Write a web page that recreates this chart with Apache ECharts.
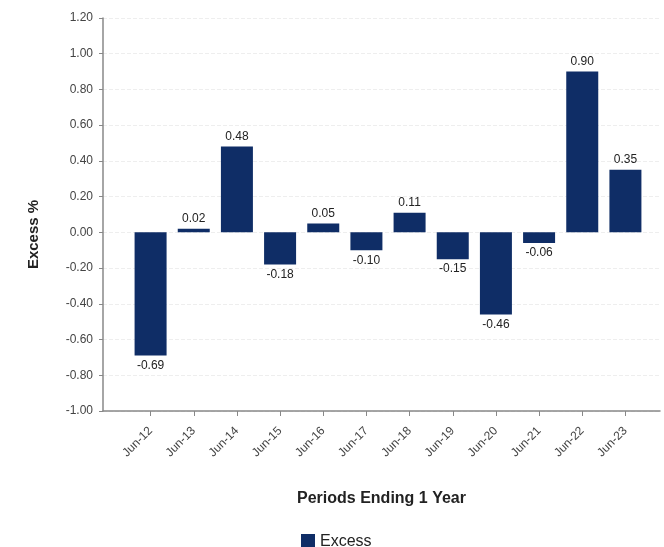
<!DOCTYPE html>
<html>
<head>
<meta charset="utf-8">
<script src="https://cdn.jsdelivr.net/npm/echarts@6/dist/echarts.min.js"></script>
<style>html,body{margin:0;padding:0;background:#fff}#c{width:664px;height:547px}</style>
</head>
<body>
<div id="c"></div>
<script>
var categories = ['Jun-12','Jun-13','Jun-14','Jun-15','Jun-16','Jun-17','Jun-18','Jun-19','Jun-20','Jun-21','Jun-22','Jun-23'];
var excess = [-0.69, 0.02, 0.48, -0.18, 0.05, -0.10, 0.11, -0.15, -0.46, -0.06, 0.90, 0.35];
var yTicks = {min: -1.0, max: 1.2, interval: 0.2};

var barData = excess.map(function (v) {
  return {value: v, label: {position: v < 0 ? 'bottom' : 'top'}};
});
var chart = echarts.init(document.getElementById('c'), null, {renderer: 'canvas'});
var font = 'Arial, "Liberation Sans", sans-serif';
chart.setOption({
  backgroundColor: '#ffffff',
  animation: false,
  grid: [
    {left: 129, right: 17, top: 18, bottom: 136},
    {left: 103, right: 4, top: 18, bottom: 136}
  ],
  legend: {
    data: ['Excess'], left: 296, top: 529, itemWidth: 14, itemHeight: 16, itemGap: 8,
    icon: 'rect',
    textStyle: {fontFamily: font, fontSize: 16, color: '#222'}
  },
  xAxis: [
    {
      gridIndex: 0, type: 'category', data: categories,
      axisLine: {show: false, onZero: false},
      axisTick: {show: true, alignWithLabel: true, length: 5, lineStyle: {color: '#888'}},
      axisLabel: {rotate: 45, fontFamily: font, fontSize: 12, color: '#444', margin: 18, interval: 0},
      splitLine: {show: false}
    },
    {
      gridIndex: 1, type: 'value', min: 0, max: 1,
      axisLine: {show: true, onZero: false, lineStyle: {color: '#888', width: 1.5}},
      axisTick: {show: false}, axisLabel: {show: false}, splitLine: {show: false},
      name: 'Periods Ending 1 Year', nameLocation: 'middle', nameGap: 80,
      nameTextStyle: {fontFamily: font, fontSize: 16, fontWeight: 'bold', color: '#222'}
    }
  ],
  yAxis: [
    {
      gridIndex: 0, type: 'value', min: yTicks.min, max: yTicks.max, interval: yTicks.interval,
      offset: 26,
      axisLine: {show: true, onZero: false, lineStyle: {color: '#888', width: 1.5}},
      axisTick: {show: true, length: 4, lineStyle: {color: '#888'}},
      axisLabel: {fontFamily: font, fontSize: 12, color: '#444', margin: 10,
        formatter: function (v) { return v.toFixed(2); }},
      splitLine: {show: false},
      name: 'Excess %', nameLocation: 'middle', nameGap: 62,
      nameTextStyle: {fontFamily: font, fontSize: 15, fontWeight: 'bold', color: '#222',
        padding: [0, 40, 0, 0]}
    },
    {
      gridIndex: 1, type: 'value', min: yTicks.min, max: yTicks.max, interval: yTicks.interval,
      axisLine: {show: false, onZero: false}, axisTick: {show: false}, axisLabel: {show: false},
      splitLine: {show: true, lineStyle: {color: '#eeeeee', type: 'dashed'}}
    }
  ],
  series: [{
    name: 'Excess', type: 'bar', xAxisIndex: 0, yAxisIndex: 0,
    data: barData, barWidth: 32,
    itemStyle: {color: '#0f2d66'},
    label: {
      show: true, fontFamily: font, fontSize: 12, color: '#222', distance: 4,
      formatter: function (p) { return p.value.toFixed(2); }
    }
  }]
});
</script>
</body>
</html>
